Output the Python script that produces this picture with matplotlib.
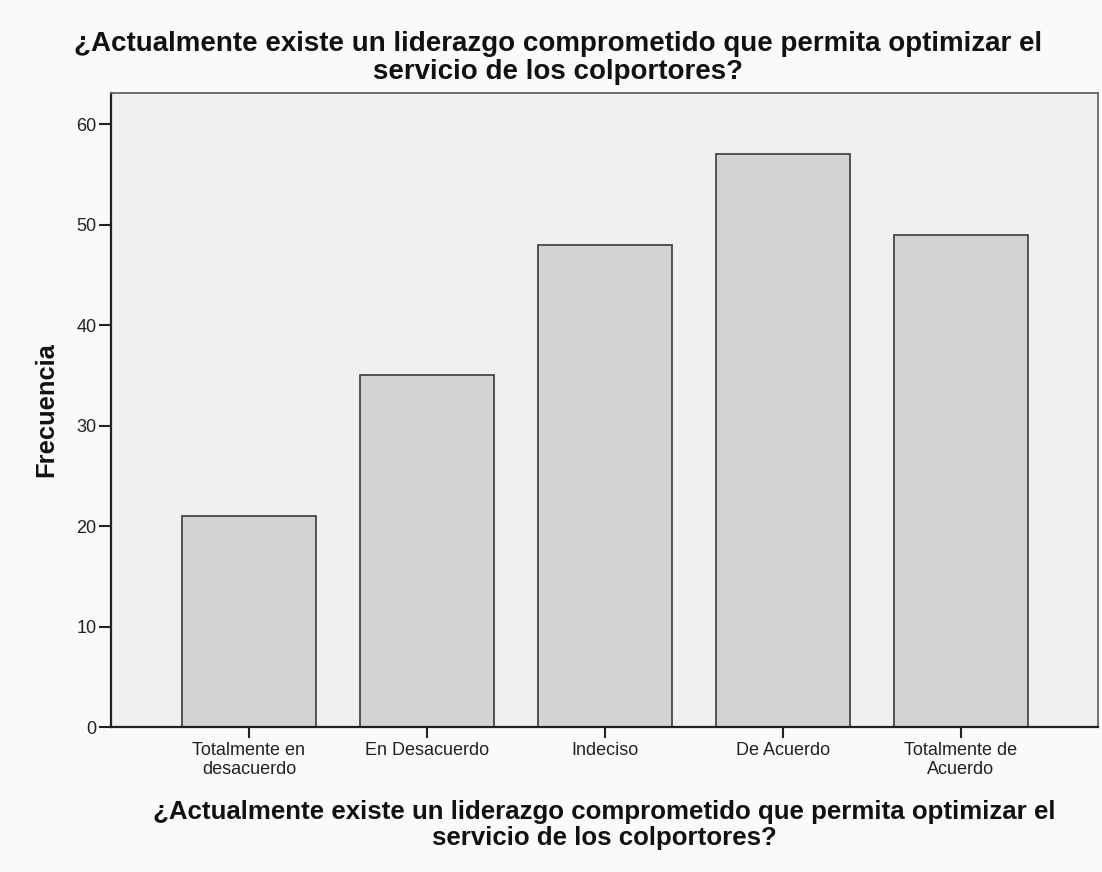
import numpy as np
import matplotlib
matplotlib.use('Agg')
import matplotlib.pyplot as plt

# Datos del gráfico
categorias = ['Totalmente en\ndesacuerdo', 'En Desacuerdo', 'Indeciso',
              'De Acuerdo', 'Totalmente de\nAcuerdo']
frecuencias = [21, 35, 48, 57, 49]
yticks = [0, 10, 20, 30, 40, 50, 60]
titulo = ('¿Actualmente existe un liderazgo comprometido que permita optimizar el\n'
          'servicio de los colportores?')

plt.rcParams['font.family'] = ['Liberation Sans', 'DejaVu Sans']

W, H = 1102, 872


def draw_graph():
    fig = plt.figure(figsize=(W / 100, H / 100), dpi=100)
    fig.patch.set_facecolor('#fafafa')

    # área del gráfico en píxeles
    left, right, top, bottom = 111, 1098, 93, 727
    ax = fig.add_axes([left / W, 1 - bottom / H, (right - left) / W, (bottom - top) / H])
    ax.set_facecolor('#f0f0f0')

    x = np.arange(len(categorias))
    ax.bar(x, frecuencias, width=0.753, color='#d3d3d3',
           edgecolor='#3a3a3a', linewidth=1.2, zorder=2)

    ax.set_xlim(-0.775, len(categorias) - 1 + 0.77)
    ax.set_ylim(0, 63.1)
    ax.set_xticks(x)
    ax.set_xticklabels(categorias, fontsize=13, linespacing=1.12, color='#222222')
    ax.set_yticks(yticks)
    ax.set_yticklabels([str(v) for v in yticks], fontsize=13, color='#222222')

    ax.tick_params(axis='y', length=9, width=1.5, pad=1.5, color='#222222')
    ax.tick_params(axis='x', length=8, width=1.5, pad=3, color='#222222')

    for s in ['left', 'bottom']:
        ax.spines[s].set_color('#222222')
        ax.spines[s].set_linewidth(1.6)
    for s in ['top', 'right']:
        ax.spines[s].set_color('#666666')
        ax.spines[s].set_linewidth(1.3)

    fig.text(558 / W, 1 - 31 / H, titulo, ha='center', va='top',
             fontsize=20, fontweight='bold', color='#111111', linespacing=1.12)
    fig.text((left + right) / 2 / W, 1 - 800 / H, titulo, ha='center', va='top',
             fontsize=18.6, fontweight='bold', color='#111111', linespacing=1.12)
    fig.text(46 / W, 1 - 410 / H, 'Frecuencia', ha='center', va='center',
             rotation=90, fontsize=18.4, fontweight='bold', color='#111111')

    fig.savefig('out.png', dpi=100, facecolor=fig.get_facecolor())


def main():
    draw_graph()


if __name__ == '__main__':
    main()
